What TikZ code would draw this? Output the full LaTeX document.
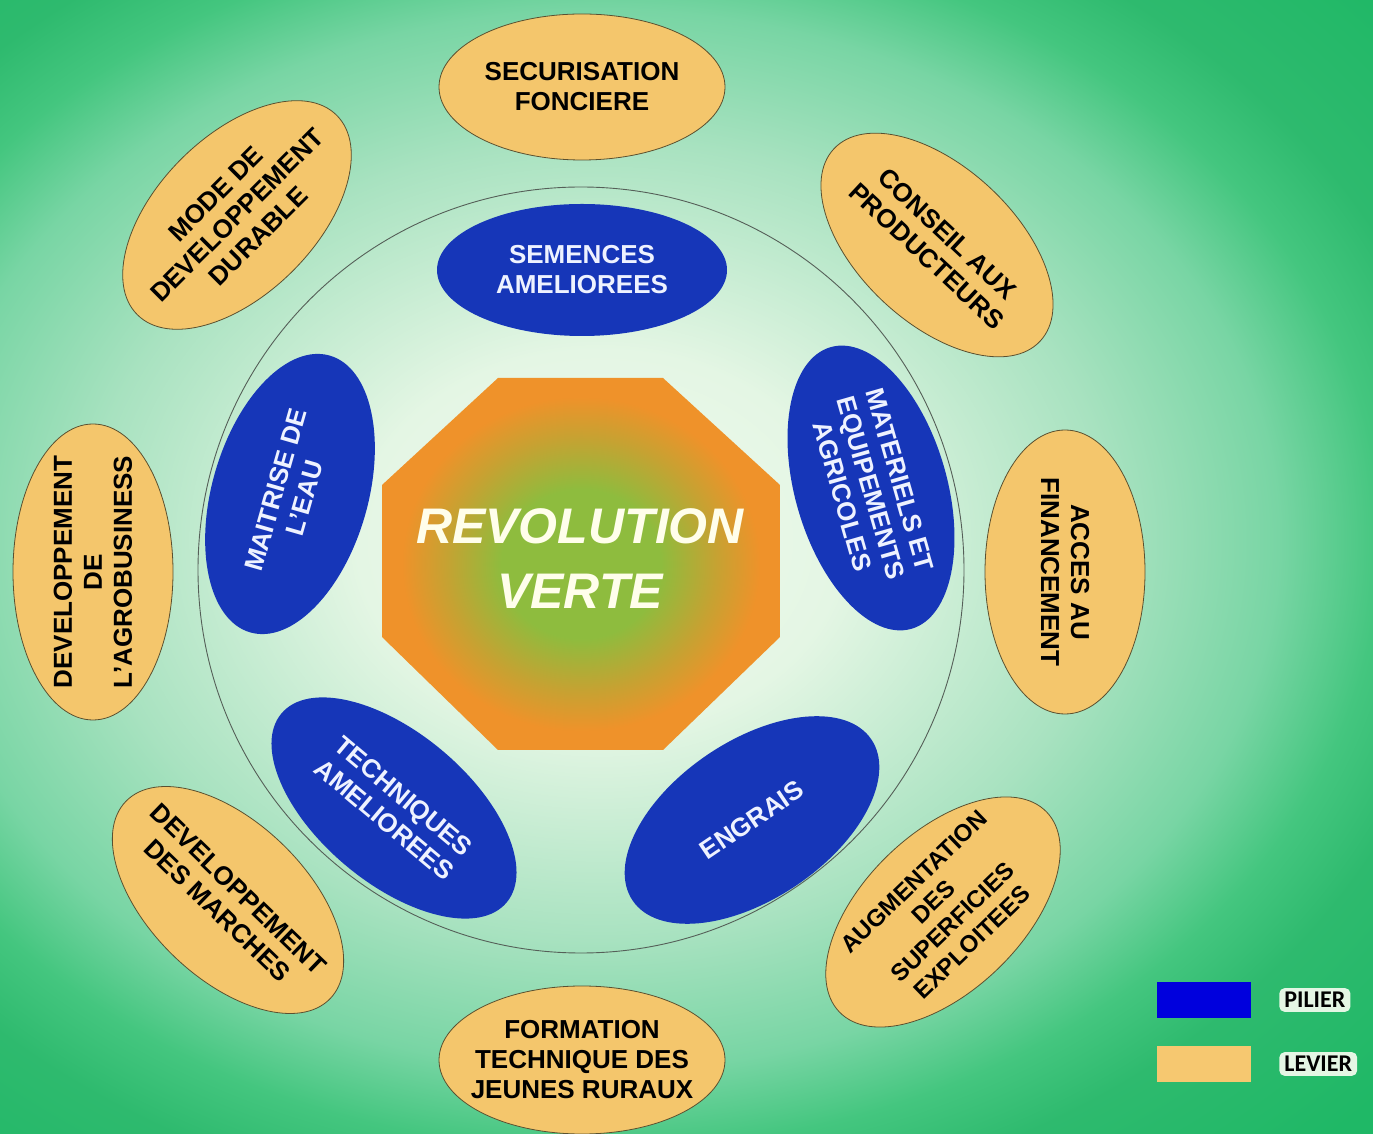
\documentclass[tikz,border=0pt]{standalone}
\usepackage{fontspec}
\setmainfont{Liberation Sans}
\newfontfamily\legendfont{Carlito}
\usepackage{xcolor}
\usetikzlibrary{shapes.geometric}
\usetikzlibrary{positioning}
\usetikzlibrary{calc}

\definecolor{bglight}{HTML}{F0FAEE}
\definecolor{bgpale}{HTML}{E4F6E4}
\definecolor{bgmid}{HTML}{A8E2C0}
\definecolor{bgsoft}{HTML}{78D5A4}
\definecolor{bgouter}{HTML}{44C67F}
\definecolor{bgdeep}{HTML}{2EBA6E}
\definecolor{bgdark}{HTML}{1FB866}
\definecolor{octgreen}{HTML}{8EBC3E}
\definecolor{octolive}{HTML}{C6A232}
\definecolor{octorange}{HTML}{EF922A}
\definecolor{pilfill}{HTML}{1636B8}
\definecolor{piltxt}{HTML}{EEF2FF}
\definecolor{levfill}{HTML}{F4C66C}
\definecolor{levline}{HTML}{5A5030}
\definecolor{legblue}{HTML}{0000DD}
\definecolor{legtan}{HTML}{F6C870}
\definecolor{ringline}{HTML}{555F58}

\pgfdeclareradialshading{bgglow}{\pgfpoint{0bp}{0bp}}{color(0bp)=(bglight); color(3.8bp)=(bgpale); color(8bp)=(bgmid); color(10.6bp)=(bgsoft); color(12.2bp)=(bgouter); color(13.6bp)=(bgdeep); color(16.5bp)=(bgdark); color(100bp)=(bgdark)}
\pgfdeclareradialshading{octglow}{\pgfpoint{0bp}{0bp}}{color(0bp)=(octgreen); color(10bp)=(octgreen); color(17bp)=(octolive); color(22.5bp)=(octorange); color(100bp)=(octorange)}

\begin{document}
\begin{tikzpicture}[x=1pt,y=1pt,
    basic/.style={ellipse,inner sep=0pt,minimum width=286pt,minimum height=150pt},
    pilier/.style={basic,fill=pilfill,minimum width=290pt},
    levier/.style={basic,draw=levline,line width=0.8pt,fill=levfill},
    piltext/.style={align=center,text=piltxt,font=\fontsize{26}{30}\selectfont\bfseries},
    levtext/.style={align=center,text=black,font=\fontsize{26}{30}\selectfont\bfseries},
    legbox/.style={minimum width=94pt,minimum height=36pt,inner sep=0pt},
    legtext/.style={fill=bgpale,rounded corners=5pt,inner xsep=5pt,inner ysep=4pt,font=\fontsize{24}{26}\legendfont\bfseries},
]
    % background
    \useasboundingbox (0,0) rectangle (1373,1133);
    \begin{scope}
        \clip (0,0) rectangle (1373,1133);
        \shade[shading=bgglow] (-1000,-657) rectangle (2200,1843);
    \end{scope}
    \draw[ringline,line width=0.9pt] (581,563) circle (383);

    % centre
    \shade[shading=octglow] (498,755) -- (663,755) -- (780,648) -- (780,496)
        -- (663,383) -- (498,383) -- (382,496) -- (382,648) -- cycle;
    \node[align=center,text=white!92!yellow,font=\fontsize{50}{65}\selectfont\bfseries\itshape] (hub) at (580,574) {REVOLUTION\\VERTE};

    % piliers
    \node[pilier,minimum height=132pt] (sem) at (582,863) {};
    \node[piltext] (semt) at (sem) {SEMENCES\\AMELIOREES};
    \node[pilier,rotate=-74,minimum width=293pt,minimum height=152pt] (mat) at (871,645) {};
    \node[piltext,rotate=-74] (matt) at (mat) {MATERIELS ET\\EQUIPEMENTS\\AGRICOLES};
    \node[pilier,rotate=34,minimum width=288pt,minimum height=158pt] (eng) at (752,313) {};
    \node[piltext,rotate=34] (engt) at (eng) {ENGRAIS};
    \node[pilier,rotate=-40,minimum width=294pt] (tec) at (394,325) {};
    \node[piltext,rotate=-40] (tect) at (tec) {TECHNIQUES\\AMELIOREES};
    \node[pilier,rotate=74,minimum width=288pt,minimum height=156pt] (eau) at (290,639) {};
    \node[piltext,rotate=74] (eaut) at (eau) {MAITRISE DE\\L'EAU};

    % leviers
    \node[levier,minimum height=146pt] (sec) at (582,1046) {};
    \node[levtext] (sect) at (sec) {SECURISATION\\FONCIERE};
    \node[levier,rotate=-43,minimum width=282pt,minimum height=156pt] (con) at (937,888) {};
    \node[levtext,rotate=-43] (cont) at (con) {CONSEIL AUX\\PRODUCTEURS};
    \node[levier,rotate=-90,minimum width=284pt,minimum height=160pt] (acc) at (1065,561) {};
    \node[levtext,rotate=-90] (acct) at (acc) {ACCES AU\\FINANCEMENT};
    \node[levier,rotate=44,minimum width=288pt,minimum height=158pt] (aug) at (943,221) {};
    \node[levtext,rotate=44,font=\fontsize{24}{28}\selectfont\bfseries] (augt) at (aug) {AUGMENTATION\\DES\\SUPERFICIES\\EXPLOITEES};
    \node[levier,minimum height=148pt] (for) at (582,73) {};
    \node[levtext] (fort) at (for) {FORMATION\\TECHNIQUE DES\\JEUNES RURAUX};
    \node[levier,rotate=-44,minimum width=284pt,minimum height=156pt] (mar) at (228,233) {};
    \node[levtext,rotate=-44] (mart) at (mar) {DEVELOPPEMENT\\DES MARCHES};
    \node[levier,rotate=90,minimum width=296pt,minimum height=160pt] (agr) at (93,561) {};
    \node[levtext,rotate=90] (agrt) at (agr) {DEVELOPPEMENT\\DE\\L'AGROBUSINESS};
    \node[levier,rotate=45,minimum width=282pt,minimum height=158pt] (mod) at (237,918) {};
    \node[levtext,rotate=45] (modt) at (mod) {MODE DE\\DEVELOPPEMENT\\DURABLE};

    % legende
    \node[legbox,fill=legblue] (kpil) at (1204,133) {};
    \node[legtext,right=28pt of kpil] (lpil) {PILIER};
    \node[legbox,fill=legtan] (klev) at (1204,69) {};
    \node[legtext,right=28pt of klev] (llev) {LEVIER};
\end{tikzpicture}
\end{document}
